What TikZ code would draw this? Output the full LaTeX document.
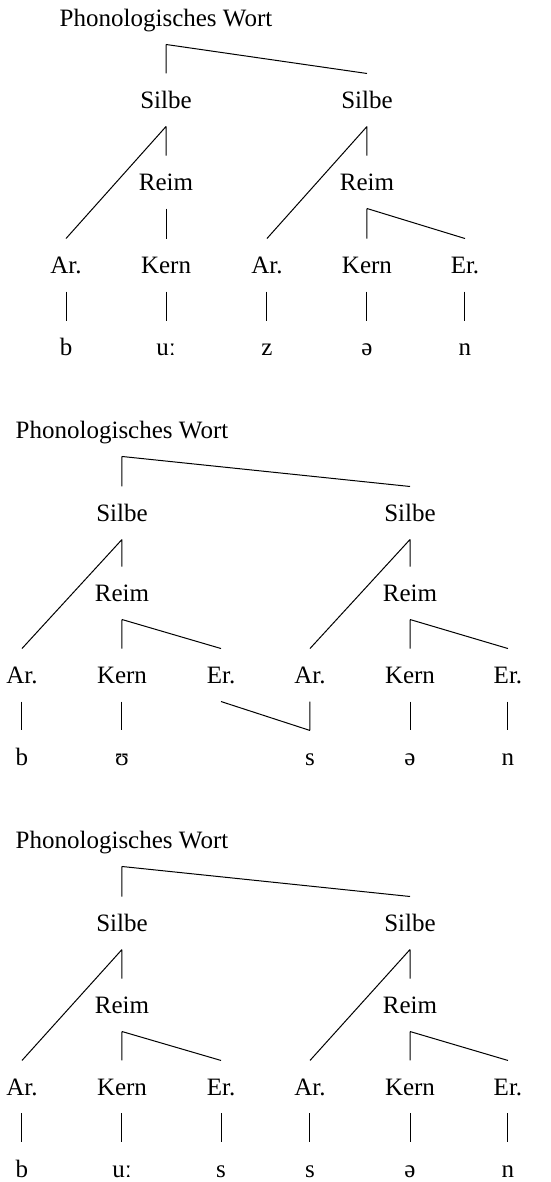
\documentclass[tikz,border=0pt]{standalone}
\usepackage{fontspec}
\setmainfont{Liberation Serif}
\usepackage{tikz}
\tikzset{lbl/.style={inner xsep=0pt, inner ysep=6.9pt, text height=7pt, text depth=0pt}}
\begin{document}
\begin{tikzpicture}[font=\normalsize]
  \useasboundingbox (0,0) rectangle (7.746,16.617);
  % erster Baum: bu:zen
  \node[lbl] (pw1) at (2.334,16.364) {Phonologisches Wort};
  \node[lbl] (si1l) at (2.334,15.211) {Silbe};
  \node[lbl] (si1r) at (5.159,15.211) {Silbe};
  \node[lbl] (re1l) at (2.334,14.058) {Reim};
  \node[lbl] (re1r) at (5.159,14.058) {Reim};
  \node[lbl] (ar1l) at (0.928,12.891) {Ar.};
  \node[lbl] (ke1l) at (2.334,12.891) {Kern};
  \node[lbl] (ar1r) at (3.753,12.891) {Ar.};
  \node[lbl] (ke1r) at (5.159,12.891) {Kern};
  \node[lbl] (er1r) at (6.537,12.891) {Er.};
  \node[lbl] (sg1a) at (0.928,11.738) {b};
  \node[lbl] (sg1b) at (2.334,11.738) {uː};
  \node[lbl] (sg1c) at (3.753,11.738) {z};
  \node[lbl] (sg1d) at (5.159,11.738) {ə};
  \node[lbl] (sg1e) at (6.537,11.738) {n};
  \draw (pw1.south) -- (si1l.north) (pw1.south) -- (si1r.north);
  \draw (si1l.south) -- (ar1l.north) (si1l.south) -- (re1l.north);
  \draw (si1r.south) -- (ar1r.north) (si1r.south) -- (re1r.north);
  \draw (re1l.south) -- (ke1l.north);
  \draw (re1r.south) -- (ke1r.north) (re1r.south) -- (er1r.north);
  \draw (ar1l.south) -- (sg1a.north);
  \draw (ke1l.south) -- (sg1b.north);
  \draw (ar1r.south) -- (sg1c.north);
  \draw (ke1r.south) -- (sg1d.north);
  \draw (er1r.south) -- (sg1e.north);
  % zweiter Baum: ambisilbisches s
  \node[lbl] (pw2) at (1.715,10.572) {Phonologisches Wort};
  \node[lbl] (si2l) at (1.715,9.405) {Silbe};
  \node[lbl] (si2r) at (5.764,9.405) {Silbe};
  \node[lbl] (re2l) at (1.715,8.280) {Reim};
  \node[lbl] (re2r) at (5.764,8.280) {Reim};
  \node[lbl] (ar2l) at (0.309,7.127) {Ar.};
  \node[lbl] (ke2l) at (1.715,7.127) {Kern};
  \node[lbl] (er2l) at (3.107,7.127) {Er.};
  \node[lbl] (ar2r) at (4.358,7.127) {Ar.};
  \node[lbl] (ke2r) at (5.764,7.127) {Kern};
  \node[lbl] (er2r) at (7.141,7.127) {Er.};
  \node[lbl] (sg2a) at (0.309,5.975) {b};
  \node[lbl] (sg2b) at (1.715,5.975) {ʊ};
  \node[lbl] (sg2c) at (4.358,5.975) {s};
  \node[lbl] (sg2d) at (5.764,5.975) {ə};
  \node[lbl] (sg2e) at (7.141,5.975) {n};
  \draw (pw2.south) -- (si2l.north) (pw2.south) -- (si2r.north);
  \draw (si2l.south) -- (ar2l.north) (si2l.south) -- (re2l.north);
  \draw (si2r.south) -- (ar2r.north) (si2r.south) -- (re2r.north);
  \draw (re2l.south) -- (ke2l.north) (re2l.south) -- (er2l.north);
  \draw (re2r.south) -- (ke2r.north) (re2r.south) -- (er2r.north);
  \draw (ar2l.south) -- (sg2a.north);
  \draw (ke2l.south) -- (sg2b.north);
  \draw (er2l.south) -- (sg2c.north) (ar2r.south) -- (sg2c.north);
  \draw (ke2r.south) -- (sg2d.north);
  \draw (er2r.south) -- (sg2e.north);
  % dritter Baum: zwei s
  \node[lbl] (pw3) at (1.715,4.808) {Phonologisches Wort};
  \node[lbl] (si3l) at (1.715,3.641) {Silbe};
  \node[lbl] (si3r) at (5.764,3.641) {Silbe};
  \node[lbl] (re3l) at (1.715,2.488) {Reim};
  \node[lbl] (re3r) at (5.764,2.488) {Reim};
  \node[lbl] (ar3l) at (0.309,1.336) {Ar.};
  \node[lbl] (ke3l) at (1.715,1.336) {Kern};
  \node[lbl] (er3l) at (3.107,1.336) {Er.};
  \node[lbl] (ar3r) at (4.358,1.336) {Ar.};
  \node[lbl] (ke3r) at (5.764,1.336) {Kern};
  \node[lbl] (er3r) at (7.141,1.336) {Er.};
  \node[lbl] (sg3a) at (0.309,0.183) {b};
  \node[lbl] (sg3b) at (1.715,0.183) {uː};
  \node[lbl] (sg3c) at (3.107,0.183) {s};
  \node[lbl] (sg3d) at (4.358,0.183) {s};
  \node[lbl] (sg3e) at (5.764,0.183) {ə};
  \node[lbl] (sg3f) at (7.141,0.183) {n};
  \draw (pw3.south) -- (si3l.north) (pw3.south) -- (si3r.north);
  \draw (si3l.south) -- (ar3l.north) (si3l.south) -- (re3l.north);
  \draw (si3r.south) -- (ar3r.north) (si3r.south) -- (re3r.north);
  \draw (re3l.south) -- (ke3l.north) (re3l.south) -- (er3l.north);
  \draw (re3r.south) -- (ke3r.north) (re3r.south) -- (er3r.north);
  \draw (ar3l.south) -- (sg3a.north);
  \draw (ke3l.south) -- (sg3b.north);
  \draw (er3l.south) -- (sg3c.north);
  \draw (ar3r.south) -- (sg3d.north);
  \draw (ke3r.south) -- (sg3e.north);
  \draw (er3r.south) -- (sg3f.north);
\end{tikzpicture}
\end{document}
